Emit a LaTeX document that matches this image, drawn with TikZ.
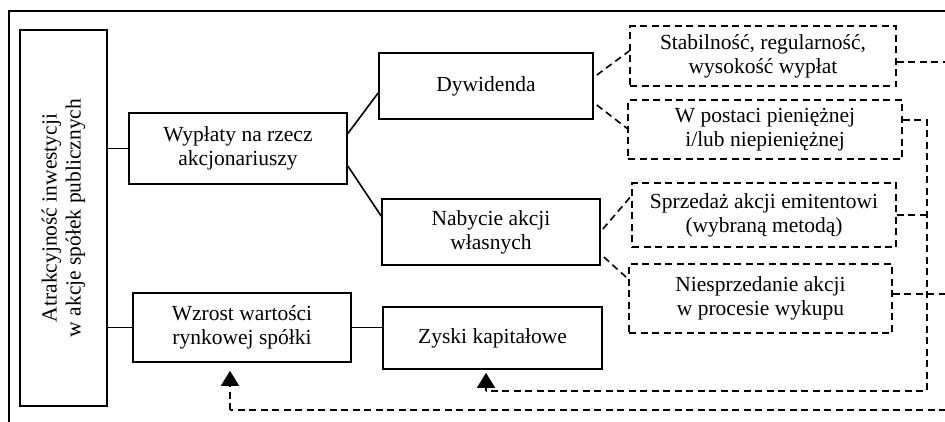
\documentclass[tikz,border=0pt]{standalone}
\usepackage{fontspec}
\setmainfont{Liberation Serif}
\usetikzlibrary{arrows.meta}
\begin{document}
\begin{tikzpicture}[x=1pt,y=-1pt,
  every node/.style={font=\fontsize{21.5}{24}\selectfont},
  solidbox/.style={draw,line width=1.7pt,inner sep=0pt,align=center},
  dashbox/.style={draw,line width=1.6pt,dash pattern=on 7pt off 4.5pt,inner sep=0pt,align=center},
  solidline/.style={line width=1.6pt},
  dashline/.style={line width=1.6pt,dash pattern=on 7pt off 4.5pt},
  tip/.style={-{Triangle[width=18pt,length=15pt,sep=0pt]}}]
\useasboundingbox (0,0) rectangle (945,421);
% outer frame
\coordinate (ftl) at (9,11);
\coordinate (ftr) at (946,11);
\coordinate (fbl) at (9,422);
\draw[line width=1.8pt] (fbl) -- (ftl) -- (ftr);
% solid boxes
\node[solidbox,rotate=90,minimum width=376pt,minimum height=87pt] (atr) at (63.5,218)
  {Atrakcyjność inwestycji\\w akcje spółek publicznych};
\node[solidbox,minimum width=218pt,minimum height=71pt] (wyp) at (238,148.5)
  {Wypłaty na rzecz\\akcjonariuszy};
\node[solidbox,minimum width=218pt,minimum height=69pt] (wzr) at (242,327.5)
  {Wzrost wartości\\rynkowej spółki};
\node[solidbox,minimum width=214pt,minimum height=66pt] (dyw) at (486,86)
  {Dywidenda};
\node[solidbox,minimum width=218pt,minimum height=66pt] (nab) at (491,232)
  {Nabycie akcji\\własnych};
\node[solidbox,minimum width=219pt,minimum height=62pt] (zys) at (492.5,338)
  {\raisebox{-5pt}{Zyski kapitałowe}};
% dashed boxes
\node[dashbox,minimum width=266pt,minimum height=60pt] (stab) at (763,56)
  {Stabilność, regularność,\\wysokość wypłat};
\node[dashbox,minimum width=274pt,minimum height=59pt] (wpo) at (765,129.5)
  {W postaci pieniężnej\\i/lub niepieniężnej};
\node[dashbox,minimum width=264pt,minimum height=64pt] (spr) at (764,215)
  {Sprzedaż akcji emitentowi\\(wybraną metodą)};
\node[dashbox,minimum width=263pt,minimum height=69pt] (nie) at (760.5,298.5)
  {Niesprzedanie akcji\\w procesie wykupu};
% solid connectors
\draw[solidline] (wyp.west -| atr.south) -- (wyp.west);
\draw[solidline] (wzr.west -| atr.south) -- (wzr.west);
\draw[solidline] (wzr.east) -- (wzr.east -| zys.west);
\draw[solidline] ([yshift=15pt]wyp.east) -- ([yshift=-7pt]dyw.west);
\draw[solidline] ([yshift=-17.5pt]wyp.east) -- ([yshift=16pt]nab.west);
% dashed connectors
\draw[dashline] ([xshift=3pt,yshift=11pt]dyw.east) -- ([yshift=5pt]stab.west);
\draw[dashline] ([xshift=3pt,yshift=-19pt]dyw.east) -- ([yshift=1pt]wpo.west);
\draw[dashline] ([xshift=2pt,yshift=3pt]nab.east) -- ([yshift=19pt]spr.west);
\draw[dashline] ([xshift=3pt,yshift=-25pt]nab.east) -- ([yshift=19.5pt]nie.west);
% right side dashed routes
\coordinate (e1) at (946,62);
\coordinate (e2) at (946,294);
\coordinate (e3) at (946,410);
\coordinate (v1) at (927,120);
\coordinate (v2) at (927,391);
\coordinate (a1) at (230,410);
\coordinate (a2) at (486,391);
\draw[dashline] ([yshift=-6pt]stab.east) -- (stab.east |- e1) -- (e1);
\draw[dashline] ([yshift=4.5pt]nie.east) -- (e2);
\draw[dashline] ([yshift=9.5pt]wpo.east) -- (v1) -- (v2) -- (a2);
\draw[dashline] (spr.east) -- (spr.east -| v1);
\draw[dashline] (e3) -- (a1);
\draw[dashline,tip] (a1) -- ([xshift=-12pt,yshift=-8pt]wzr.south);
\draw[dashline,tip] (a2) -- ([xshift=-6.5pt,yshift=-3pt]zys.south);
\end{tikzpicture}
\end{document}
